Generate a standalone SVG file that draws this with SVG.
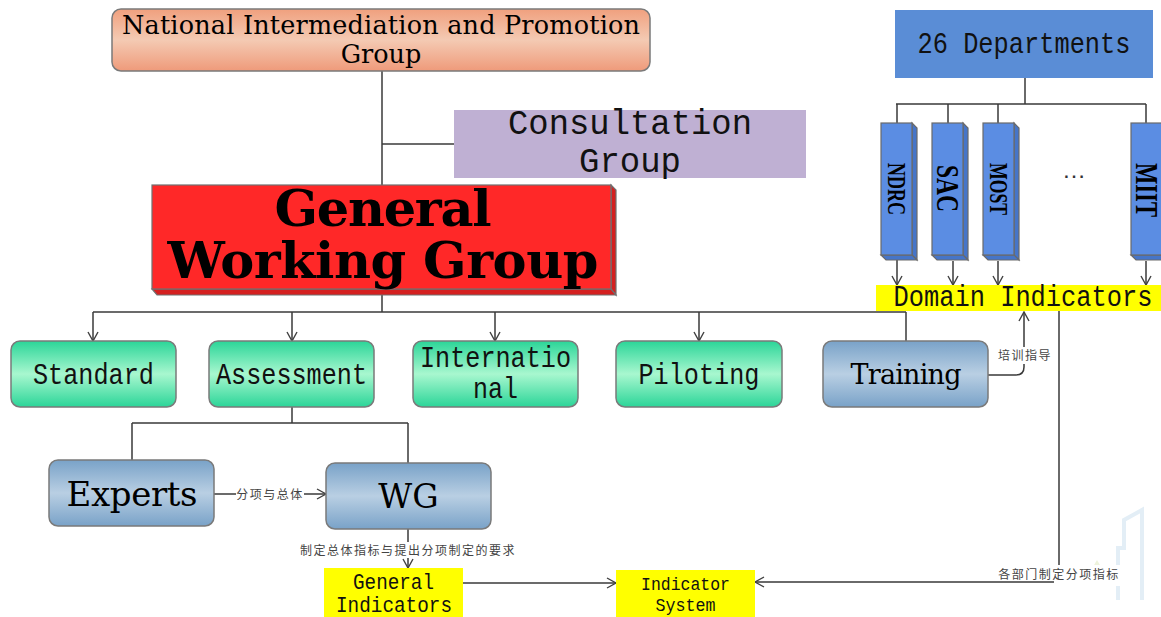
<svg xmlns="http://www.w3.org/2000/svg" width="1161" height="617" viewBox="0 0 1161 617">
<defs>
  <linearGradient id="gSalmon" x1="0" y1="0" x2="0" y2="1">
    <stop offset="0" stop-color="#f0a07e"/><stop offset="0.5" stop-color="#f4cab3"/><stop offset="1" stop-color="#ef9a7a"/>
  </linearGradient>
  <linearGradient id="gGreen" x1="0" y1="0" x2="0" y2="1">
    <stop offset="0" stop-color="#2bd598"/><stop offset="0.5" stop-color="#a8f7cf"/><stop offset="1" stop-color="#2bd598"/>
  </linearGradient>
  <linearGradient id="gBlue" x1="0" y1="0" x2="0" y2="1">
    <stop offset="0" stop-color="#79a2c8"/><stop offset="0.5" stop-color="#b9cfe3"/><stop offset="1" stop-color="#79a2c8"/>
  </linearGradient>
  <marker id="arr" viewBox="0 0 12 12" refX="10" refY="6" markerWidth="12" markerHeight="12" markerUnits="userSpaceOnUse" orient="auto">
    <path d="M1,1 L10,6 L1,11" fill="none" stroke="#404040" stroke-width="1.4"/>
  </marker>
  <style>
    .box{stroke:#7a7a7a;stroke-width:1.5}
    .ln{fill:none;stroke:#3a3a3a;stroke-width:1.5}
    .mono{font-family:"Liberation Mono",monospace;fill:#111;text-anchor:middle}
    .serif{font-family:"DejaVu Serif","Liberation Serif",serif;fill:#000;text-anchor:middle}
    .bar{font-family:"Liberation Serif",serif;font-weight:bold;fill:#000;text-anchor:middle}
    .cjk{font-family:"Noto Sans CJK SC",sans-serif;font-size:12px;fill:#444;text-anchor:middle;letter-spacing:1.5px}
    .bg{fill:#fff}
    .front{fill:#5b8de3;stroke:#6a6a6a;stroke-width:1.2}
    .side{fill:#4675c8;stroke:#6a6a6a;stroke-width:1.2}
  </style>
</defs>
<rect width="1161" height="617" fill="#fff"/>

<!-- faint watermark -->
<g fill="none" stroke="#e3eef6" stroke-width="4">
  <polyline points="1118,600 1118,548 1124,548 1124,520 1142,510 1142,600"/>
  <line x1="1066" y1="584" x2="1118" y2="584"/>
</g>
<polygon points="1090,572 1097,560 1104,572" fill="#eef3dc"/>

<g id="connectors">
  <path class="ln" d="M382 71 V185"/>
  <path class="ln" d="M382 144 H454"/>
  <path class="ln" d="M382 295 V312"/>
  <path class="ln" d="M93 312 H906"/>
  <path class="ln" d="M93 312 V341" marker-end="url(#arr)"/>
  <path class="ln" d="M292 312 V341" marker-end="url(#arr)"/>
  <path class="ln" d="M495 312 V341" marker-end="url(#arr)"/>
  <path class="ln" d="M699 312 V341" marker-end="url(#arr)"/>
  <path class="ln" d="M906 312 V341"/>
  <path class="ln" d="M988 375 H1016 Q1024 375 1024 367 V312" marker-end="url(#arr)"/>
  <path class="ln" d="M1059 311 V582 H755" marker-end="url(#arr)"/>
  <path class="ln" d="M292 407 V423 M132 423 H408 M132 423 V460 M408 423 V463"/>
  <path class="ln" d="M214 494 H326" marker-end="url(#arr)"/>
  <path class="ln" d="M408 529 V568" marker-end="url(#arr)"/>
  <path class="ln" d="M463 583 H616" marker-end="url(#arr)"/>
  <path class="ln" d="M1025 78 V104 M896 104 H1146 M897 104 V123 M948 104 V123 M998 104 V123 M1146 104 V123"/>
  <path class="ln" d="M897 259 V285" marker-end="url(#arr)"/>
  <path class="ln" d="M953 261 V285" marker-end="url(#arr)"/>
  <path class="ln" d="M998 261 V285" marker-end="url(#arr)"/>
  <path class="ln" d="M1146 261 V285" marker-end="url(#arr)"/>
  <rect class="bg" x="236" y="486" width="68" height="16"/>
  <text class="cjk" x="270" y="498.5">分项与总体</text>
  <rect class="bg" x="299" y="542" width="218" height="16"/>
  <text class="cjk" x="408" y="554.5">制定总体指标与提出分项制定的要求</text>
  <rect class="bg" x="996" y="347" width="56" height="17"/>
  <text class="cjk" x="1025" y="360">培训指导</text>
  <rect class="bg" x="1054" y="565" width="67" height="21"/>
  <text class="cjk" x="1059" y="579">各部门制定分项指标</text>
</g>

<g id="national">
  <rect class="box" x="112" y="9" width="538" height="62" rx="9" fill="url(#gSalmon)"/>
  <text class="serif" x="381" y="34" font-size="25.5" textLength="518">National Intermediation and Promotion</text>
  <text class="serif" x="381" y="63" font-size="25.5">Group</text>
</g>

<g id="consultation">
  <rect x="454" y="110" width="352" height="68" fill="#bfb0d3"/>
  <text class="mono" x="630" y="134" font-size="35" textLength="244" lengthAdjust="spacingAndGlyphs">Consultation</text>
  <text class="mono" x="630" y="172" font-size="35" textLength="102" lengthAdjust="spacingAndGlyphs">Group</text>
</g>

<g id="general-working-group">
  <polygon points="611,185 616,190 616,295 611,289" fill="#d42020" stroke="#707070" stroke-width="1.2"/>
  <polygon points="152,289 611,289 616,295 157,295" fill="#d42020" stroke="#707070" stroke-width="1.2"/>
  <rect x="152" y="185" width="459" height="104" fill="#ff2828" stroke="#707070" stroke-width="1.2"/>
  <text class="serif" x="383" y="226" font-size="51" font-weight="bold" textLength="217">General</text>
  <text class="serif" x="383" y="278" font-size="51" font-weight="bold" textLength="431">Working Group</text>
</g>

<g id="departments">
  <rect x="895" y="10" width="258" height="68" fill="#5a8dd6"/>
  <text class="mono" x="1024" y="53" font-size="29" textLength="213" lengthAdjust="spacingAndGlyphs">26 Departments</text>
</g>

<g id="ndrc">
  <polygon class="side" points="912,123 917,128 917,260 912,255"/>
  <polygon class="side" points="881,255 912,255 917,260 886,260"/>
  <rect class="front" x="881" y="123" width="31" height="132"/>
  <text class="bar" transform="translate(896.5,189) rotate(90)" y="8.5" font-size="25" textLength="52" lengthAdjust="spacingAndGlyphs">NDRC</text>
</g>
<g id="sac">
  <polygon class="side" points="963,123 968,128 968,260 963,255"/>
  <polygon class="side" points="932,255 963,255 968,260 937,260"/>
  <rect class="front" x="932" y="123" width="31" height="132"/>
  <text class="bar" transform="translate(947.5,188.5) rotate(90)" y="10.5" font-size="32" textLength="47" lengthAdjust="spacingAndGlyphs">SAC</text>
</g>
<g id="most">
  <polygon class="side" points="1014,123 1019,128 1019,260 1014,255"/>
  <polygon class="side" points="983,255 1014,255 1019,260 988,260"/>
  <rect class="front" x="983" y="123" width="31" height="132"/>
  <text class="bar" transform="translate(998.5,189) rotate(90)" y="8.5" font-size="25" textLength="52" lengthAdjust="spacingAndGlyphs">MOST</text>
</g>
<g id="ellipsis">
  <text x="1074" y="178" font-family="Liberation Sans, sans-serif" font-size="24" fill="#333" text-anchor="middle">…</text>
</g>
<g id="miit">
  <polygon class="side" points="1131,255 1162,255 1167,260 1136,260"/>
  <rect class="front" x="1131" y="123" width="35" height="132"/>
  <text class="bar" transform="translate(1145.5,190) rotate(90)" y="10" font-size="31" textLength="54" lengthAdjust="spacingAndGlyphs">MIIT</text>
</g>

<g id="domain-indicators">
  <rect x="876" y="285" width="285" height="26" fill="#ffff00"/>
  <text class="mono" x="1023" y="306" font-size="29" textLength="259" lengthAdjust="spacingAndGlyphs">Domain Indicators</text>
</g>

<g id="standard">
  <rect class="box" x="11" y="341" width="165" height="66" rx="9" fill="url(#gGreen)"/>
  <text class="mono" x="93.5" y="384" font-size="30" textLength="121" lengthAdjust="spacingAndGlyphs">Standard</text>
</g>
<g id="assessment">
  <rect class="box" x="209" y="341" width="165" height="66" rx="9" fill="url(#gGreen)"/>
  <text class="mono" x="291.5" y="384" font-size="30" textLength="151" lengthAdjust="spacingAndGlyphs">Assessment</text>
</g>
<g id="international">
  <rect class="box" x="413" y="341" width="165" height="66" rx="9" fill="url(#gGreen)"/>
  <text class="mono" x="495.5" y="367" font-size="30" textLength="151" lengthAdjust="spacingAndGlyphs">Internatio</text>
  <text class="mono" x="495.5" y="398" font-size="30" textLength="45" lengthAdjust="spacingAndGlyphs">nal</text>
</g>
<g id="piloting">
  <rect class="box" x="616" y="341" width="166" height="66" rx="9" fill="url(#gGreen)"/>
  <text class="mono" x="699" y="384" font-size="30" textLength="121" lengthAdjust="spacingAndGlyphs">Piloting</text>
</g>
<g id="training">
  <rect class="box" x="823" y="341" width="165" height="66" rx="9" fill="url(#gBlue)"/>
  <text class="serif" x="906" y="384" font-size="27" textLength="111">Training</text>
</g>

<g id="experts">
  <rect class="box" x="49" y="460" width="165" height="66" rx="9" fill="url(#gBlue)"/>
  <text class="serif" x="132" y="506" font-size="34" textLength="131">Experts</text>
</g>
<g id="wg">
  <rect class="box" x="326" y="463" width="165" height="66" rx="9" fill="url(#gBlue)"/>
  <text class="serif" x="408.5" y="508" font-size="33">WG</text>
</g>

<g id="general-indicators">
  <rect x="324" y="568" width="139" height="49" fill="#ffff00"/>
  <text class="mono" x="393.5" y="589" font-size="22" textLength="81" lengthAdjust="spacingAndGlyphs">General</text>
  <text class="mono" x="394" y="612" font-size="22" textLength="116" lengthAdjust="spacingAndGlyphs">Indicators</text>
</g>
<g id="indicator-system">
  <rect x="616" y="570" width="139" height="47" fill="#ffff00"/>
  <text class="mono" x="685.5" y="590" font-size="19" textLength="89" lengthAdjust="spacingAndGlyphs">Indicator</text>
  <text class="mono" x="685.5" y="611" font-size="19" textLength="60" lengthAdjust="spacingAndGlyphs">System</text>
</g>
</svg>
